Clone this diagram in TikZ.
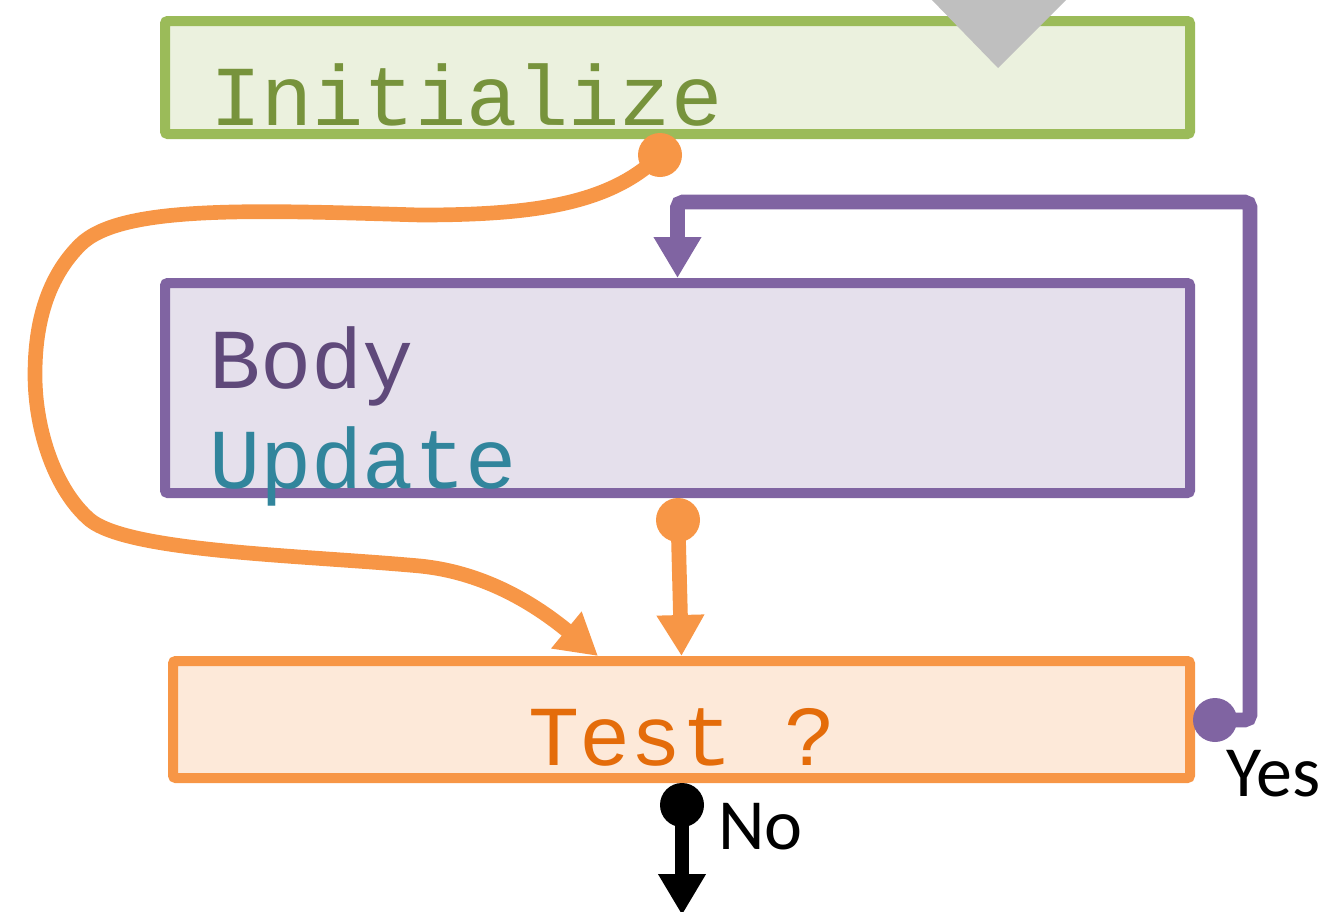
\documentclass[tikz,border=0pt]{standalone}
\usepackage{fontspec}
\setmonofont{Liberation Mono}
\newfontfamily\calib{Carlito}
\usetikzlibrary{arrows.meta}
\definecolor{grnB}{HTML}{9BBB59}
\definecolor{grnF}{HTML}{EBF1DE}
\definecolor{grnT}{HTML}{77933C}
\definecolor{purB}{HTML}{8064A2}
\definecolor{purF}{HTML}{E5E0EC}
\definecolor{purT}{HTML}{5F497A}
\definecolor{tealT}{HTML}{31859C}
\definecolor{orgB}{HTML}{F79646}
\definecolor{orgF}{HTML}{FDE9D9}
\definecolor{orgT}{HTML}{E46C0A}
\definecolor{triG}{HTML}{BFBFBF}
\tikzset{
  box/.style={draw, line width=7.5pt, rounded corners=2pt, inner sep=0pt},
  code/.style={font=\ttfamily\fontsize{64}{76}\selectfont, anchor=base west, inner sep=0pt},
  lbl/.style={font=\calib\fontsize{54}{62}\selectfont, anchor=base west, inner sep=0pt},
  conn/.style={line width=11pt},
  tipT/.style={-{Triangle[length=30.75pt,width=33.75pt]}},
  dot/.style={circle, inner sep=0pt, minimum size=33pt}
}
\begin{document}
\begin{tikzpicture}[x=0.75pt,y=-0.75pt]
\useasboundingbox (0,0) rectangle (1327,911);
% boxes
\node[box, draw=grnB, fill=grnF, minimum width=768.75pt, minimum height=84.75pt] (init) at (677.5,77.5) {};
\node[box, draw=purB, fill=purF, minimum width=768.75pt, minimum height=157.5pt] (body) at (677.5,388) {};
\node[box, draw=orgB, fill=orgF, minimum width=762.75pt, minimum height=87.75pt] (test) at (681.5,719.5) {};
% gray triangle
\fill[triG] (930,-2) -- (1068,-2) -- (998,68) -- cycle;
% texts
\node[code, text=grnT] (tinit) at (210,125) {Initialize};
\node[code, text=purT] (tbody) at (209,388) {Body};
\node[code, text=tealT] (tupd) at (209,488) {Update};
\node[code, text=orgT] (ttest) at (528,765) {Test ?};
\node[lbl] (tyes) at (1226,796) {Yes};
\node[lbl] (tno) at (718,849) {No};
% connector start points
\coordinate (o1) at (660,155);
\coordinate (o2) at (678,520);
\coordinate (p1) at (1215,720);
\coordinate (k1) at (682,805);
\coordinate (k2) at (682,915);
% orange curve
\draw[conn, orgB, tipT] (o1) .. controls (610,205) and (530,215) .. (420,215)
  .. controls (250,210) and (120,205) .. (80,245)
  .. controls (40,285) and (35,340) .. (35,375)
  .. controls (35,430) and (55,490) .. (90,520)
  .. controls (130,552) and (300,555) .. (420,566)
  .. controls (480,572) and (530,600) .. (598,656);
% orange straight
\draw[conn, orgB, tipT] (o2) -- (test.north);
% purple loop
\draw[conn, purB, tipT, rounded corners=4pt] (p1) -- (1250,720) -- (1250,202) -- (677.5,202) -- (body.north);
% black exit
\draw[conn, black, tipT] (k1) -- (k2);
% dots
\node[dot, fill=orgB] (d1) at (o1) {};
\node[dot, fill=orgB] (d2) at (o2) {};
\node[dot, fill=purB] (d3) at (p1) {};
\node[dot, fill=black] (d4) at (k1) {};
\end{tikzpicture}
\end{document}
